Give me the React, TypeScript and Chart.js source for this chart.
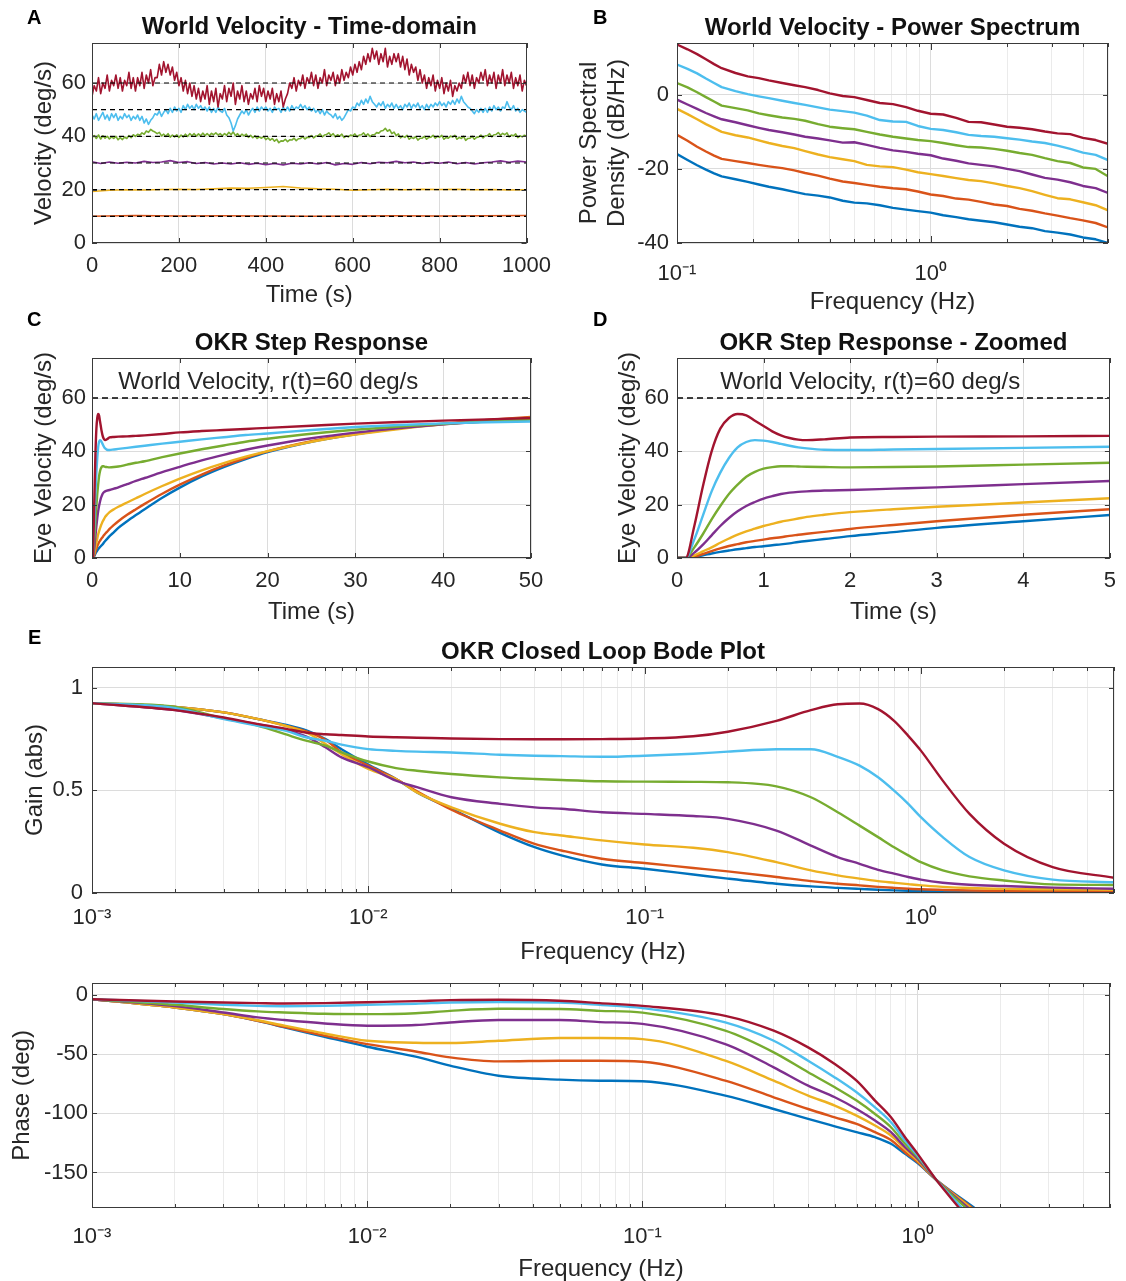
import React, { useEffect, useRef } from "react";
import { Chart, registerables } from "chart.js";

Chart.register(...registerables);

const FONT = '"Liberation Sans", Arial, Helvetica, sans-serif';
const TEXT = "#262626";
const FRAME = "#3a3a3a";
const GRID_MAJOR = "#dcdcdc";
const GRID_MINOR = "#ebebeb";
Chart.defaults.font.family = FONT;
Chart.defaults.color = TEXT;

// series colours, order: 60, 50, 40, 30, 20, 10, 0 deg/s
const RED = "#A2142F";
const CYAN = "#4DBEEE";
const GREEN = "#77AC30";
const PURPLE = "#7E2F8E";
const YELLOW = "#EDB120";
const ORANGE = "#D95319";
const BLUE = "#0072BD";
const SERIES_COLORS = [RED, CYAN, GREEN, PURPLE, YELLOW, ORANGE, BLUE];

// ---------------- Panel A : world velocity, time domain ----------------
const timeStep5 = Array.from({ length: 201 }, (_, i) => i * 5);
const timeStep20 = Array.from({ length: 51 }, (_, i) => i * 20);
const timeStep40 = Array.from({ length: 26 }, (_, i) => i * 40);
const timeStep100 = Array.from({ length: 11 }, (_, i) => i * 100);
const timeEnds = [0, 1000];
const referenceLevels = [0, 10, 20, 30, 40, 50, 60];

const velRed = [
  55,59,57,62,56,60,58,63,57,61, 59,63,58,62,57,61,59,64,58,62,
  57,62,59,64,58,63,60,65,59,62, 62,67,63,68,64,67,63,66,61,64,
  59,62,57,61,56,60,55,59,54,58, 53,57,54,59,52,57,53,58,51,56,
  54,59,53,58,55,60,52,57,54,59, 53,57,52,56,54,58,53,59,55,58,
  53,57,54,58,52,56,53,57,51,54, 56,60,58,62,57,61,59,63,58,62,
  60,64,59,63,58,62,60,65,59,63, 61,64,59,63,60,65,61,64,62,66,
  63,67,64,68,65,70,67,71,68,73, 69,72,67,71,68,73,66,70,67,71,
  68,71,66,70,65,69,63,67,64,66, 61,65,60,63,58,62,59,63,57,61,
  58,62,56,60,57,61,55,59,57,60, 58,63,60,64,59,63,58,62,60,64,
  61,65,59,63,60,64,58,63,60,65, 59,63,60,64,58,62,59,63,57,61,
  59,
];
const velCyan = [
  48,46.5,48.5,46,47.5,49,46.5,48,46,48.5, 47,48.5,46,47.5,46.5,48.5,47,48,46,47.5,
  46.5,48,46,47.5,45,46.5,44.5,46,47,48.5, 48,49.5,47.5,49,50,48.5,50.5,49,51,49.5,
  50.5,49,51.5,50,52,50.5,51.5,50,52,50.5, 51.5,50,51,49.5,51,49,50.5,49,51,49.5,
  49,50.5,48,47,45,42,44,46.5,48,49.5, 48.5,50,48,49.5,50.5,49,51,49.5,51,50,
  51,49.5,50.5,49,51,50,50.5,49,51,49.5, 51,49.5,51.5,50,51,50.5,52,50.5,51.5,50,
  51,49.5,50.5,49,50,48.5,50,48,49.5,48.5, 48,47,48.5,46.5,47.5,46,47,48.5,50,49.5,
  51,50.5,52.5,51.5,53.5,52,54,52.5,55,53, 52,51,52.5,51.5,53,50.5,52,51,52.5,50.5,
  52,50.5,51.5,50,52,51,52.5,50.5,52,51, 52.5,50.5,51.5,50,52,50.5,52,51,52.5,51.5,
  53,51.5,52.5,51,53,52,53.5,52,54,52.5, 55,53,52,51,50.5,49.5,48.5,50,49,50.5,
  49,50.5,49,51,49.5,51.5,50,51,49.5,51, 50.5,53,51,50,51.5,49.5,50.5,49,50,49.5,
  49,
];
const velGreen = [
  39.5,40.3,39.2,40.5,39,40.2,39.3,40,39,39.8, 39.2,40,38.7,39.5,38.8,39.7,39.2,40.3,39.5,40.6,
  40,40.8,40.4,41.3,40.8,42,41.5,42.6,42,41.6, 41,41.5,40.2,40.8,40,41,39.7,40.5,39.8,40.6,
  39.6,40.5,39.8,40.8,40,41,40.2,41,40.1,40.9, 40.2,41.2,40.3,41,40.2,41.1,40.6,41.3,40.5,41,
  40.2,41,40.4,41.5,40.6,41.7,40.3,41,40,40.8, 40.2,40.8,39.6,40.4,39.5,40.2,39.2,39.8,39.3,39.9,
  38.8,39.4,38.6,39.2,38.2,38.9,37.6,38.3,38.2,38.9, 38,38.7,38.6,39.3,38.4,39.1,39.2,39.9,39,39.6,
  39.6,40.3,39.4,40.1,40.2,40.9,39.8,40.5,40.7,41.3, 40.3,41,39.8,40.6,40.1,40.8,39.5,40.2,39.8,40.5,
  40.2,40.9,39.8,40.5,40.6,41.3,40.2,40.9,39.9,40.6, 40.6,41.4,41.2,42,42.2,43,41.9,42.5,41,41.6,
  40.3,40.9,39.4,40.1,39.6,40.4,38.9,39.6,39.2,39.9, 38.6,39.3,39.3,40,38.9,39.6,39.7,40.4,39.3,40,
  39.7,40.4,38.9,39.6,39.3,40.1,39.7,40.4,38.9,39.6, 39.2,40,38.5,39.2,39.3,40,38.9,39.6,39.8,40.5,
  39.4,40.2,40.3,41,39.8,40.6,40.7,41.4,40.4,41.1, 40.6,41.3,39.8,40.5,40.2,40.9,39.5,40.2,39.8,40.4,
  40,
];
const velPurple = [30.5,29.8,30.4,29.9,30.3,30,30.6,30.2,30.4,30.9, 30.2,30.5,29.8,30.2,29.6,30,29.6,30.1,29.5,29.9, 29.4,29.8,29.3,29.9,29.6,30.1,29.6,30.2,29.3,29.8, 29.5,30.2,29.7,30.3,30.1,30.6,30.1,30.4,29.8,30.3, 29.9,30.4,29.7,30.2,29.6,30.1,30.4,30.8,30.3,30.7, 30.4];
const velYellow = [19.3,19.8,20,19.9,20.1,20.2,20.1,20.3,20.6,20.5,20.8,21.2,20.6,20.3,20.2,19.8,20,20.2,20,20.2,20.1,20.2,20,20.1,19.9,20];
const velOrange = [10,10.3,10.1,10.2,10.1,10,10.1,10.2,10.1,10.2,10.3];
const velBlue = [0, 0];
const velTicksX = [0, 200, 400, 600, 800, 1000];
const velTicksY = [0, 20, 40, 60];

// ---------------- Panel B : power spectrum ----------------
const psdFreq = [0.1,0.11,0.12,0.13,0.14,0.15,0.17,0.19,0.21,0.23,0.26,0.29,0.32,0.36,0.4,0.45,0.5,0.56,0.63,0.71,0.8,0.89,1.0,1.12,1.26,1.41,1.58,1.78,2.0,2.24,2.51,2.82,3.16,3.55,3.98,4.47,5.0];
const psdRed = [13.6,12.3,11.0,9.6,8.3,7.2,5.9,5.0,4.5,3.9,3.2,2.6,2.1,1.3,0.4,-0.3,-0.6,-1.4,-2.2,-2.5,-3.3,-4.3,-5.1,-5.3,-6.2,-7.3,-7.4,-8.0,-8.6,-8.9,-9.3,-9.9,-10.4,-10.6,-11.6,-12.2,-13.2];
const psdCyan = [8.2,7.0,5.8,4.4,3.2,2.1,1.0,0.2,-0.4,-0.9,-1.6,-2.2,-2.7,-3.4,-4.0,-4.4,-4.8,-5.6,-6.8,-7.2,-7.3,-8.4,-9.2,-9.5,-10.1,-10.8,-11.1,-11.3,-11.7,-12.1,-12.6,-13.0,-13.7,-14.6,-15.6,-16.2,-17.6];
const psdGreen = [3.2,2.0,0.7,-0.6,-1.8,-2.9,-3.6,-4.2,-5.0,-5.5,-6.1,-6.5,-7.0,-7.9,-8.6,-9.0,-9.3,-10.0,-10.7,-11.3,-11.8,-12.2,-12.5,-13.0,-13.6,-14.1,-14.2,-14.6,-15.1,-15.7,-16.2,-17.1,-17.9,-18.4,-19.6,-20.0,-22.0];
const psdPurple = [-1.3,-2.6,-3.8,-4.9,-5.8,-6.6,-7.4,-8.2,-8.9,-9.5,-10.1,-10.7,-11.3,-11.8,-12.3,-12.9,-12.8,-13.5,-14.3,-15.0,-15.4,-15.9,-16.3,-17.2,-17.8,-18.5,-18.9,-19.3,-20.0,-20.6,-21.5,-22.4,-22.9,-23.6,-24.6,-25.2,-26.5];
const psdYellow = [-3.8,-5.2,-6.6,-7.9,-9.0,-10.0,-10.9,-11.5,-12.3,-13.0,-13.8,-14.4,-15.2,-16.1,-16.8,-17.4,-17.9,-18.9,-19.3,-19.5,-20.2,-20.9,-21.4,-21.9,-22.5,-23.0,-23.3,-23.9,-24.6,-25.2,-26.0,-27.0,-27.9,-28.2,-29.0,-29.8,-31.2];
const psdOrange = [-10.8,-12.4,-14.0,-15.3,-16.4,-17.3,-17.9,-18.4,-18.9,-19.3,-19.8,-20.4,-21.1,-21.8,-22.6,-23.4,-23.8,-24.3,-24.8,-25.2,-25.5,-26.1,-26.9,-27.3,-28.0,-28.3,-28.9,-29.6,-30.0,-30.8,-31.3,-32.0,-32.6,-33.3,-33.9,-34.6,-35.8];
const psdBlue = [-16.0,-17.6,-19.0,-20.2,-21.2,-22.0,-22.8,-23.5,-24.2,-24.8,-25.5,-26.2,-26.8,-27.2,-27.7,-28.6,-29.1,-29.3,-29.8,-30.5,-31.0,-31.4,-31.8,-32.5,-33.0,-33.6,-34.0,-34.4,-35.0,-35.6,-36.0,-36.8,-37.2,-37.7,-38.5,-39.0,-40.0];
const psdDecades = [0.1, 1];
const psdDecadeLabels = ["10⁻¹", "10⁰"];
const psdTicksY = [-40, -20, 0];

// ---------------- Panels C, D : step response ----------------
const stepTime = [0,0.1,0.2,0.3,0.4,0.5,0.6,0.7,0.8,0.9,1.0,1.1,1.2,1.3,1.4,1.5,1.7,2.0,2.5,3,4,5];
const stepRed = [0,0,12,27,40,48.5,52.5,54,53.5,51.5,49.5,47.5,46,45,44.4,44.2,44.5,45.2,45.4,45.5,45.6,45.8];
const stepCyan = [0,0,7,16,25,32,37.5,41.5,43.5,44.2,44,43.5,42.8,42.1,41.5,41.1,40.6,40.5,40.7,40.9,41.3,41.7];
const stepGreen = [0,0,4,9,14.5,19.5,24,27.5,30.5,32.3,33.5,34.1,34.4,34.4,34.3,34.2,34.1,34.0,34.1,34.3,35,35.7];
const stepPurple = [0,0,2,5,8.5,12,15,17.5,19.5,21,22.3,23.2,24,24.5,24.8,25,25.3,25.5,26,26.5,27.7,28.9];
const stepYellow = [0,0,1,2.5,4,5.7,7.3,8.8,10,11,12,12.8,13.6,14.2,14.8,15.4,16.2,17.2,18.3,19.2,20.8,22.4];
const stepOrange = [0,0,0.6,1.5,2.6,3.6,4.5,5.2,5.9,6.4,6.9,7.4,7.8,8.3,8.7,9.1,9.8,10.9,12.4,13.8,16.2,18.3];
const stepBlue = [0,0,0.4,1.0,1.7,2.3,2.8,3.3,3.7,4.1,4.4,4.8,5.1,5.5,6.0,6.4,7.1,8.2,9.7,11.3,13.8,16.1];
const stepTimeLong = [6,8,10,12.5,15,17.5,20,25,30,35,40,45,50];
const stepRedLong = [46,46.5,47.1,47.6,48,48.4,48.8,49.6,50.4,51,51.5,52,52.5];
const stepCyanLong = [42.1,42.9,43.6,44.5,45.3,46.1,46.7,48,49.1,49.9,50.5,50.9,51.2];
const stepGreenLong = [36.3,37.8,39.2,40.8,42.2,43.6,44.7,46.6,48.1,49.3,50.3,51.2,51.9];
const stepPurpleLong = [30,32.2,34.2,36.6,38.7,40.6,42.2,44.9,47,48.7,50.1,51.3,52.3];
const stepYellowLong = [24,27,29.8,32.9,35.6,38,40.1,43.6,46.3,48.4,50.1,51.5,52.6];
const stepOrangeLong = [20.3,24.1,27.5,31.3,34.6,37.5,40,43.8,46.6,48.8,50.4,51.8,52.9];
const stepBlueLong = [18.3,22.6,26.4,30.6,34.1,37.1,39.7,43.6,46.4,48.6,50.2,51.5,52.5];
const worldVelocity = 60;
const stepTicksY = [0, 20, 40, 60];
const stepTicksXLong = [0, 10, 20, 30, 40, 50];
const stepTicksXShort = [0, 1, 2, 3, 4, 5];
const stepNote = "World Velocity, r(t)=60 deg/s";

// ---------------- Panel E : closed-loop Bode plot ----------------
const bodeFreq = [0.001,0.002,0.003,0.004,0.005,0.006,0.007,0.008,0.01,0.0126,0.015,0.02,0.03,0.04,0.05,0.07,0.1,0.15,0.2,0.3,0.4,0.5,0.6,0.7,0.8,0.9,1.0,1.2,1.5,2,3,5];
const gainRed = [0.924,0.89,0.854,0.822,0.80,0.78,0.773,0.769,0.762,0.758,0.756,0.752,0.749,0.748,0.748,0.749,0.752,0.763,0.785,0.838,0.89,0.919,0.922,0.895,0.838,0.765,0.693,0.547,0.385,0.24,0.126,0.074];
const gainCyan = [0.924,0.90,0.846,0.814,0.79,0.757,0.741,0.722,0.70,0.692,0.688,0.684,0.673,0.668,0.666,0.663,0.668,0.678,0.688,0.70,0.70,0.663,0.62,0.563,0.498,0.434,0.369,0.272,0.175,0.11,0.065,0.052];
const gainGreen = [0.924,0.906,0.85,0.814,0.773,0.74,0.717,0.685,0.64,0.608,0.595,0.579,0.563,0.555,0.55,0.544,0.542,0.541,0.539,0.519,0.466,0.393,0.328,0.272,0.223,0.183,0.15,0.11,0.081,0.061,0.042,0.039];
const gainPurple = [0.924,0.89,0.85,0.82,0.795,0.76,0.709,0.66,0.612,0.547,0.515,0.466,0.434,0.417,0.41,0.393,0.385,0.375,0.361,0.304,0.231,0.175,0.142,0.113,0.094,0.078,0.065,0.05,0.04,0.034,0.026,0.021];
const gainYellow = [0.924,0.906,0.879,0.846,0.814,0.78,0.725,0.676,0.604,0.555,0.49,0.417,0.337,0.296,0.28,0.256,0.236,0.22,0.199,0.15,0.11,0.086,0.07,0.058,0.05,0.043,0.037,0.03,0.024,0.02,0.018,0.016];
const gainOrange = [0.924,0.906,0.879,0.846,0.815,0.785,0.745,0.685,0.62,0.555,0.495,0.405,0.304,0.239,0.207,0.167,0.146,0.122,0.105,0.078,0.058,0.045,0.037,0.03,0.025,0.021,0.018,0.015,0.012,0.01,0.009,0.008];
const gainBlue = [0.924,0.906,0.879,0.846,0.819,0.79,0.749,0.70,0.625,0.555,0.49,0.41,0.293,0.223,0.183,0.139,0.118,0.09,0.07,0.045,0.032,0.025,0.02,0.016,0.013,0.011,0.01,0.008,0.007,0.006,0.005,0.005];
const gainTicksY = [0, 0.5, 1];

const phaseFreq = [0.001,0.002,0.003,0.004,0.005,0.007,0.01,0.015,0.02,0.03,0.05,0.07,0.1,0.2,0.3,0.4,0.5,0.6,0.7,0.8,0.9,1.0,1.166];
const phaseRed = [-3.7,-5.6,-6.5,-7,-7.3,-7,-6.2,-5.3,-4.5,-4.2,-5,-7,-9.3,-17.7,-30.3,-44.4,-58.4,-72.5,-89.3,-103.4,-120.2,-134.3,-156];
const phaseCyan = [-3.7,-6.5,-8.4,-9.3,-9.6,-9.3,-8.4,-7.5,-6.5,-6,-6.5,-8.5,-11.2,-23.3,-38.8,-55.6,-69.7,-82.3,-95,-107.6,-123,-135.7,-156];
const phaseGreen = [-3.7,-8.4,-12,-14,-14.9,-16,-16.3,-15.5,-13.5,-11.8,-12,-13.5,-15,-30.3,-48.6,-65.4,-78.1,-89.3,-100.6,-111.8,-125.8,-137,-156];
const phasePurple = [-3.7,-9.5,-14.9,-19,-21.3,-24.2,-26.1,-25.5,-23.3,-21.3,-21.3,-23,-24.5,-41.6,-61.2,-76.7,-86.5,-96.4,-106.2,-116,-128.7,-138.5,-156];
const phaseYellow = [-3.7,-10.7,-16.3,-21.5,-26,-32.6,-38.8,-40.4,-40.7,-38.8,-36.5,-36.5,-37.4,-55.6,-72.5,-85.1,-93.5,-102,-110.4,-118.8,-130,-140,-156];
const phaseOrange = [-3.7,-10.7,-16.3,-22,-27,-34.5,-41.6,-47.8,-52.8,-56.2,-55.6,-55.6,-56.5,-72.5,-86.5,-96.4,-103.4,-109,-116,-122.5,-132.9,-141.3,-156];
const phaseBlue = [-3.7,-10.7,-16.3,-21.9,-27.5,-35.4,-43.8,-52.2,-59.8,-68.3,-71.6,-72.5,-73,-85.1,-96.4,-104.8,-111,-116,-120.2,-125.8,-134.3,-142.1,-156];
// frequency at which each phase curve leaves the axes at -180 deg
const phaseExitFreq = [1.416, 1.45, 1.5, 1.53, 1.56, 1.58, 1.61];
const phaseFloor = -180;
const phaseTicksY = [-150, -100, -50, 0];
const bodeDecades = [0.001, 0.01, 0.1, 1];
const bodeDecadeLabels = ["10⁻³", "10⁻²", "10⁻¹", "10⁰"];

// ---------------- helpers ----------------
type Pt = { x: number; y: number };
const pts = (xs: number[], ys: number[]): Pt[] => ys.map((y, i) => ({ x: xs[i], y }));

const isDecade = (v: number) => {
  const l = Math.log10(v);
  return Math.abs(l - Math.round(l)) < 1e-6;
};
const logTickGrid = (decades: number[], max: number) => {
  const out: number[] = [];
  decades.forEach((d) => {
    for (let k = 1; k <= 9; k++) {
      const v = +(k * d).toPrecision(6);
      if (v <= max * 1.000001) out.push(v);
    }
  });
  return out;
};
const decadeLabel = (decades: number[], labels: string[]) => (v: number) => {
  const i = decades.findIndex((d) => Math.abs(v - d) / d < 1e-6);
  return i >= 0 ? labels[i] : "";
};

function line(data: Pt[], color: string, width: number, smooth: boolean, dash?: number[]) {
  return {
    data,
    borderColor: color,
    backgroundColor: color,
    borderWidth: width,
    pointRadius: 0,
    pointHoverRadius: 0,
    fill: false,
    tension: 0,
    cubicInterpolationMode: smooth ? "monotone" : "default",
    borderDash: dash ?? [],
    borderJoinStyle: "round",
  };
}

function makeFrame(logX: boolean, texts: { x: number; y: number; text: string }[]) {
  return {
    id: "frame",
    afterDraw(chart: any) {
      const { ctx, chartArea: a, scales } = chart;
      const xs = scales.x;
      const ys = scales.y;
      ctx.save();
      ctx.strokeStyle = FRAME;
      ctx.lineWidth = 1;
      ctx.beginPath();
      for (const t of xs.ticks) {
        const px = Math.round(xs.getPixelForValue(t.value)) + 0.5;
        const len = logX ? (isDecade(t.value) ? 7 : 4) : 5;
        ctx.moveTo(px, a.bottom);
        ctx.lineTo(px, a.bottom - len);
        ctx.moveTo(px, a.top);
        ctx.lineTo(px, a.top + len);
      }
      for (const t of ys.ticks) {
        const py = Math.round(ys.getPixelForValue(t.value)) + 0.5;
        ctx.moveTo(a.left, py);
        ctx.lineTo(a.left + 5, py);
        ctx.moveTo(a.right, py);
        ctx.lineTo(a.right - 5, py);
      }
      ctx.stroke();
      ctx.strokeRect(Math.round(a.left) + 0.5, Math.round(a.top) + 0.5, Math.round(a.right - a.left) - 1, Math.round(a.bottom - a.top) - 1);
      ctx.fillStyle = TEXT;
      ctx.font = `24px ${FONT}`;
      ctx.textAlign = "left";
      ctx.textBaseline = "middle";
      for (const t of texts) ctx.fillText(t.text, xs.getPixelForValue(t.x), ys.getPixelForValue(t.y));
      ctx.restore();
    },
  };
}

interface PanelOpts {
  datasets: any[];
  title?: string;
  titlePadTop?: number;
  titlePadBottom?: number;
  padTop?: number;
  padRight: number;
  xType: "linear" | "logarithmic";
  xMin: number;
  xMax: number;
  xTicks: number[];
  xLabel: (v: number) => string;
  xTitle: string;
  xTitleLineHeight?: number;
  xAxisHeight: number;
  xTickPad: number;
  yMin: number;
  yMax: number;
  yTicks: number[];
  yTitle: string | string[];
  yTitleLineHeight?: number;
  yAxisWidth: number;
  yTickPad: number;
  texts?: { x: number; y: number; text: string }[];
}

function buildConfig(o: PanelOpts): any {
  const logX = o.xType === "logarithmic";
  return {
    type: "line",
    data: { datasets: o.datasets },
    plugins: [makeFrame(logX, o.texts ?? [])],
    options: {
      responsive: false,
      animation: false,
      events: [],
      devicePixelRatio: 1,
      layout: { padding: { top: o.padTop ?? 0, right: o.padRight, left: 0, bottom: 0 } },
      plugins: {
        legend: { display: false },
        tooltip: { enabled: false },
        title: {
          display: !!o.title,
          text: o.title ?? "",
          fullSize: false,
          color: "#111",
          font: { size: 24, weight: "bold", lineHeight: 1.25, family: FONT },
          padding: { top: o.titlePadTop ?? 0, bottom: o.titlePadBottom ?? 0 },
        },
      },
      scales: {
        x: {
          type: o.xType,
          min: o.xMin,
          max: o.xMax,
          afterBuildTicks: (s: any) => {
            s.ticks = o.xTicks.map((v) => ({ value: v, major: false }));
          },
          afterFit: (s: any) => {
            s.height = o.xAxisHeight;
          },
          ticks: {
            autoSkip: false,
            maxRotation: 0,
            minRotation: 0,
            padding: o.xTickPad,
            color: TEXT,
            font: { size: 22, family: FONT },
            callback: (v: any) => o.xLabel(Number(v)),
          },
          grid: {
            drawTicks: false,
            lineWidth: 1,
            color: (c: any) => (logX && c.tick && !isDecade(c.tick.value) ? GRID_MINOR : GRID_MAJOR),
          },
          border: { display: false },
          title: {
            display: true,
            text: o.xTitle,
            color: TEXT,
            padding: 0,
            font: { size: 24, family: FONT, lineHeight: o.xTitleLineHeight ?? 1.25 },
          },
        },
        y: {
          type: "linear",
          min: o.yMin,
          max: o.yMax,
          afterBuildTicks: (s: any) => {
            s.ticks = o.yTicks.map((v) => ({ value: v, major: false }));
          },
          afterFit: (s: any) => {
            s.width = o.yAxisWidth;
          },
          ticks: {
            autoSkip: false,
            padding: o.yTickPad,
            color: TEXT,
            font: { size: 22, family: FONT },
            callback: (v: any) => String(v),
          },
          grid: { drawTicks: false, lineWidth: 1, color: GRID_MAJOR },
          border: { display: false },
          title: {
            display: true,
            text: o.yTitle,
            color: TEXT,
            padding: 0,
            font: { size: 24, family: FONT, lineHeight: o.yTitleLineHeight ?? 1.25 },
          },
        },
      },
    },
  };
}

// ---------------- panel definitions ----------------
const seriesA: [number[], number[], number][] = [
  [timeStep5, velRed, 1.6],
  [timeStep5, velCyan, 1.6],
  [timeStep5, velGreen, 1.6],
  [timeStep20, velPurple, 1.6],
  [timeStep40, velYellow, 1.5],
  [timeStep100, velOrange, 1.5],
  [timeEnds, velBlue, 1.5],
];
const seriesB = [psdRed, psdCyan, psdGreen, psdPurple, psdYellow, psdOrange, psdBlue];
const seriesStep = [stepRed, stepCyan, stepGreen, stepPurple, stepYellow, stepOrange, stepBlue];
const seriesStepLong = [stepRedLong, stepCyanLong, stepGreenLong, stepPurpleLong, stepYellowLong, stepOrangeLong, stepBlueLong];
const seriesGain = [gainRed, gainCyan, gainGreen, gainPurple, gainYellow, gainOrange, gainBlue];
const seriesPhase = [phaseRed, phaseCyan, phaseGreen, phasePurple, phaseYellow, phaseOrange, phaseBlue];

const configA = () =>
  buildConfig({
    datasets: [
      ...referenceLevels.map((l) => line(pts(timeEnds, [l, l]), "#000", 1.2, false, [5, 4])),
      ...seriesA.map(([t, v, w], i) => line(pts(t, v), SERIES_COLORS[i], w, false)),
    ],
    title: "World Velocity - Time-domain",
    titlePadTop: 2,
    titlePadBottom: 1,
    padRight: 30,
    xType: "linear",
    xMin: 0,
    xMax: 1000,
    xTicks: velTicksX,
    xLabel: (v) => String(v),
    xTitle: "Time (s)",
    xAxisHeight: 67,
    xTickPad: 10,
    yMin: 0,
    yMax: 75,
    yTicks: velTicksY,
    yTitle: "Velocity (deg/s)",
    yAxisWidth: 63,
    yTickPad: 6,
  });

const psdGrid = logTickGrid(psdDecades, 5);
const configB = () =>
  buildConfig({
    datasets: seriesB.map((v, i) => line(pts(psdFreq, v), SERIES_COLORS[i], 2.4, false)),
    title: "World Velocity - Power Spectrum",
    titlePadTop: 3,
    titlePadBottom: 0,
    padRight: 10,
    xType: "logarithmic",
    xMin: 0.1,
    xMax: 5,
    xTicks: psdGrid,
    xLabel: decadeLabel(psdDecades, psdDecadeLabels),
    xTitle: "Frequency (Hz)",
    xAxisHeight: 74,
    xTickPad: 18,
    yMin: -40,
    yMax: 14,
    yTicks: psdTicksY,
    yTitle: ["Power Spectral", "Density (dB/Hz)"],
    yTitleLineHeight: 1.15,
    yAxisWidth: 101,
    yTickPad: 8,
  });

const configC = () =>
  buildConfig({
    datasets: [
      line(pts([0, 50], [worldVelocity, worldVelocity]), "#000", 1.5, false, [6, 4]),
      ...seriesStep.map((v, i) =>
        line(pts(stepTime.concat(stepTimeLong), v.concat(seriesStepLong[i])), SERIES_COLORS[i], 2.4, true)
      ),
    ],
    title: "OKR Step Response",
    titlePadTop: 3,
    titlePadBottom: 0,
    padRight: 30,
    xType: "linear",
    xMin: 0,
    xMax: 50,
    xTicks: stepTicksXLong,
    xLabel: (v) => String(v),
    xTitle: "Time (s)",
    xAxisHeight: 69,
    xTickPad: 10,
    yMin: 0,
    yMax: 75,
    yTicks: stepTicksY,
    yTitle: "Eye Velocity (deg/s)",
    yAxisWidth: 63,
    yTickPad: 6,
    texts: [{ x: 3, y: 66, text: stepNote }],
  });

const configD = () =>
  buildConfig({
    datasets: [
      line(pts([0, 5], [worldVelocity, worldVelocity]), "#000", 1.5, false, [6, 4]),
      ...seriesStep.map((v, i) => line(pts(stepTime, v), SERIES_COLORS[i], 2.4, true)),
    ],
    title: "OKR Step Response - Zoomed",
    titlePadTop: 3,
    titlePadBottom: 0,
    padRight: 10,
    xType: "linear",
    xMin: 0,
    xMax: 5,
    xTicks: stepTicksXShort,
    xLabel: (v) => String(v),
    xTitle: "Time (s)",
    xAxisHeight: 69,
    xTickPad: 10,
    yMin: 0,
    yMax: 75,
    yTicks: stepTicksY,
    yTitle: "Eye Velocity (deg/s)",
    yAxisWidth: 64,
    yTickPad: 8,
    texts: [{ x: 0.5, y: 66, text: stepNote }],
  });

const bodeGrid = logTickGrid(bodeDecades, 5);
const configGain = () =>
  buildConfig({
    datasets: seriesGain.map((v, i) => line(pts(bodeFreq, v), SERIES_COLORS[i], 2.4, true)),
    title: "OKR Closed Loop Bode Plot",
    titlePadTop: 3,
    titlePadBottom: 0,
    padRight: 8,
    xType: "logarithmic",
    xMin: 0.001,
    xMax: 5,
    xTicks: bodeGrid,
    xLabel: decadeLabel(bodeDecades, bodeDecadeLabels),
    xTitle: "Frequency (Hz)",
    xAxisHeight: 74,
    xTickPad: 12,
    yMin: 0,
    yMax: 1.1,
    yTicks: gainTicksY,
    yTitle: "Gain (abs)",
    yAxisWidth: 72,
    yTickPad: 9,
  });

const configPhase = () =>
  buildConfig({
    datasets: seriesPhase.map((v, i) =>
      line(pts(phaseFreq.concat([phaseExitFreq[i]]), v.concat([phaseFloor])), SERIES_COLORS[i], 2.4, true)
    ),
    padTop: 20,
    padRight: 8,
    xType: "logarithmic",
    xMin: 0.001,
    xMax: 5,
    xTicks: bodeGrid,
    xLabel: decadeLabel(bodeDecades, bodeDecadeLabels),
    xTitle: "Frequency (Hz)",
    xTitleLineHeight: 1.0,
    xAxisHeight: 73,
    xTickPad: 16,
    yMin: -180,
    yMax: 10,
    yTicks: phaseTicksY,
    yTitle: "Phase (deg)",
    yAxisWidth: 85,
    yTickPad: 4,
  });

const PANELS = [
  { key: "A", left: 29, top: 10, width: 532, height: 300, config: configA },
  { key: "B", left: 576, top: 10, width: 550, height: 307, config: configB },
  { key: "C", left: 29, top: 325, width: 532, height: 302, config: configC },
  { key: "D", left: 613, top: 325, width: 513, height: 302, config: configD },
  { key: "Eg", left: 20, top: 634, width: 1106, height: 333, config: configGain },
  { key: "Ep", left: 7, top: 963, width: 1119, height: 318, config: configPhase },
];

const LETTERS = [
  { t: "A", left: 27, top: 7 },
  { t: "B", left: 593, top: 7 },
  { t: "C", left: 27, top: 309 },
  { t: "D", left: 593, top: 309 },
  { t: "E", left: 28, top: 627 },
];

function ChartPanel(p: { left: number; top: number; width: number; height: number; config: () => any }) {
  const ref = useRef<HTMLCanvasElement | null>(null);
  useEffect(() => {
    if (!ref.current) return;
    const chart = new Chart(ref.current, p.config());
    return () => chart.destroy();
  }, []);
  return (
    <canvas
      ref={ref}
      width={p.width}
      height={p.height}
      style={{ position: "absolute", left: p.left, top: p.top, width: p.width, height: p.height }}
    />
  );
}

export default function App() {
  return (
    <div
      style={{
        position: "absolute",
        left: 0,
        top: 0,
        width: 1126,
        height: 1281,
        overflow: "hidden",
        background: "#fff",
        fontFamily: FONT,
      }}
    >
      {PANELS.map((p) => (
        <ChartPanel key={p.key} left={p.left} top={p.top} width={p.width} height={p.height} config={p.config} />
      ))}
      {LETTERS.map((l) => (
        <div
          key={l.t}
          style={{
            position: "absolute",
            left: l.left,
            top: l.top,
            fontSize: 20,
            lineHeight: "20px",
            fontWeight: "bold",
            color: "#000",
          }}
        >
          {l.t}
        </div>
      ))}
    </div>
  );
}
